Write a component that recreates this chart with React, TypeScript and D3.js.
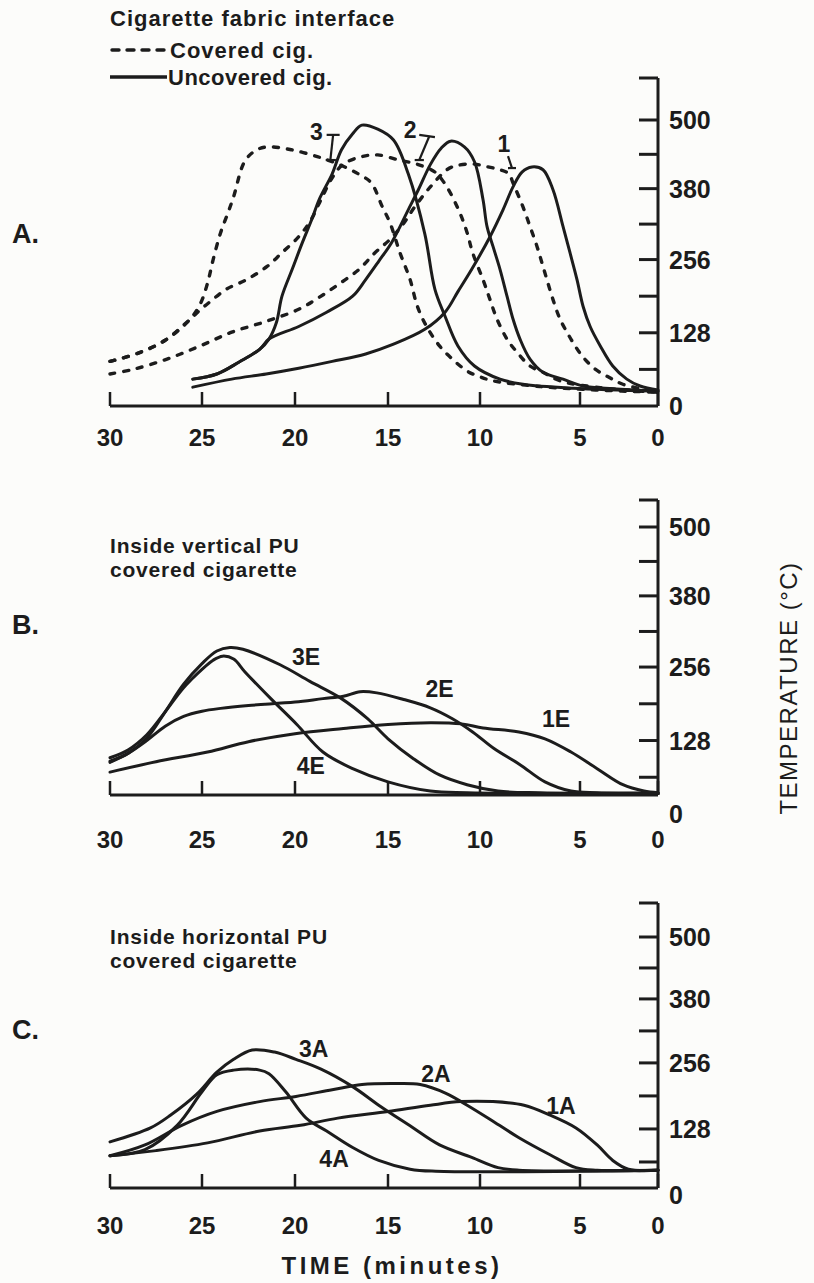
import React, { useEffect, useRef } from "react";
import * as d3 from "d3";

type Pt = [number, number]; // [minutes, °C]

const timeTicks = [30, 25, 20, 15, 10, 5, 0];
const tempTicks = [0, 128, 256, 380, 500];
const tempMinorTicks = [64, 192, 318, 440];

// A. cigarette fabric interface
const coveredA3: Pt[] = [[30,78],[28.5,92],[27,115],[25.7,150],[25.1,178],[24.7,215],[24.4,256],[24.0,303],[23.6,338],[23.3,366],[22.7,428],[22.1,447],[21.5,453],[20.2,448],[18.8,436],[18.0,427],[17.2,416],[16.5,404],[15.9,390],[15.3,348],[14.9,321],[14.35,268],[13.8,221],[13.4,174],[12.9,139],[12.2,105],[11.5,82],[10.7,61],[10.0,51],[9.35,44],[7,34],[4,28],[0,24]];
const coveredA2: Pt[] = [[30,78],[28.5,92],[27,115],[25.7,150],[25.1,168],[24.5,184],[23.7,204],[22.6,221],[21.5,244],[20.7,268],[19.8,296],[19.2,322],[18.6,361],[18.0,399],[17.4,423],[16.4,436],[15.55,439],[14.4,430],[13.45,423],[12.45,409],[11.8,383],[11.1,338],[10.7,303],[10.4,268],[9.85,221],[9.5,186],[9.15,152],[8.65,117],[8.15,94],[7.5,70],[6.85,59],[6.0,44],[3.7,32],[0,24]];
const coveredA1: Pt[] = [[30,56],[28.75,64],[26.9,82],[25.1,105],[23.4,129],[21.55,148],[19.8,169],[18.7,190],[17.6,214],[16.55,239],[15.7,268],[14.9,291],[14.2,317],[13.55,348],[12.7,383],[11.8,413],[11.3,420],[10.4,423],[9.6,418],[9.0,413],[8.55,406],[8.35,390],[7.85,348],[7.5,314],[7.15,279],[6.85,244],[6.35,186],[6.0,152],[5.65,129],[5.35,111],[4.85,87],[4.0,64],[3.2,51],[2.25,38],[0,24]];
const uncoveredA3: Pt[] = [[25.5,47],[24.2,56],[23.0,77],[21.9,99],[21.4,117],[21.0,146],[20.7,192],[20.15,239],[19.6,286],[19.1,326],[18.7,361],[18.0,406],[17.5,448],[16.9,476],[16.4,491],[15.55,484],[14.7,465],[13.9,406],[13.0,301],[12.45,204],[11.9,157],[11.2,105],[10.3,70],[9.0,47],[7.85,38],[5.35,31],[0,26]];
const uncoveredA2: Pt[] = [[25.5,47],[24.2,56],[23.0,77],[21.9,99],[21.4,117],[19.8,139],[18.3,164],[16.9,192],[16.2,221],[15.5,253],[14.8,286],[13.9,343],[13.35,378],[12.7,422],[12.1,451],[11.6,463],[10.85,453],[10.3,427],[9.85,361],[9.65,314],[9.35,279],[9.0,239],[8.65,192],[8.35,152],[8.0,117],[7.5,82],[6.85,59],[5.85,47],[4.8,35],[2.9,30],[0,26]];
const uncoveredA1: Pt[] = [[25.5,33],[23.4,47],[21.55,56],[19.8,66],[18.0,78],[16.2,91],[14.7,108],[13.0,134],[11.9,164],[11.2,200],[10.45,239],[9.5,296],[8.85,343],[8.35,383],[7.9,409],[7.4,418],[6.85,413],[6.35,378],[5.85,314],[5.5,268],[5.15,221],[4.8,174],[4.35,139],[3.7,105],[2.9,70],[2.0,47],[1.15,35],[0,28]];

// B. inside vertical PU, covered cigarette
const verticalE3: Pt[] = [[30,92],[29,106],[28,132],[27,178],[26,226],[25,262],[24.2,284],[23.5,290],[22.8,287],[20.8,260],[19.2,231],[17.5,201],[16.1,166],[15,131],[13.6,96],[12.2,68],[10.7,51],[9.1,40],[7,37],[0,36]];
const verticalE4: Pt[] = [[30,98],[29,112],[28,138],[27,178],[26,220],[25,252],[24.4,268],[23.9,275],[23.3,270],[22.7,248],[21.3,201],[19.9,156],[18.5,108],[16.9,79],[15,56],[12.7,40],[10.7,37],[0,36]];
const verticalE2: Pt[] = [[30,90],[29,106],[28,128],[27,153],[26,170],[25,179],[24,184],[22.5,189],[20,195],[18.5,201],[17.4,205],[16.5,213],[15.6,211],[14.2,200],[12.7,185],[11.5,166],[10.4,143],[9.3,114],[8,86],[6.75,56],[5.45,40],[3.9,37],[0,36]];
const verticalE1: Pt[] = [[30,73],[27.5,91],[24.7,108],[22.5,126],[20,140],[17.4,149],[15,156],[12.7,159],[11,157],[9.85,150],[8.05,143],[6.75,131],[5.45,108],[3.9,79],[2.25,51],[0.9,40],[0,37]];

// C. inside horizontal PU, covered cigarette
const horizontalA3: Pt[] = [[30,103],[27.8,130],[26.7,155],[25.3,195],[24.2,238],[23.3,263],[22.3,281],[21.1,277],[19.95,263],[18.6,244],[16.9,210],[15.5,174],[13.8,134],[12.2,97],[10.45,73],[9.1,53],[8.05,48],[0,48]];
const horizontalA4: Pt[] = [[30,76],[28.1,88],[26.35,135],[25,200],[24.2,233],[23.3,242],[21.9,242],[21.4,235],[20.5,200],[19.4,149],[18.3,124],[16.9,92],[15.5,67],[13.8,50],[12.4,46],[0,48]];
const horizontalA2: Pt[] = [[30,76],[28.1,97],[26.1,135],[24.2,162],[21.9,181],[19.95,191],[18,204],[16.4,214],[14.6,216],[13.25,214],[11.85,197],[10.7,174],[9.35,143],[8.05,111],[6.5,78],[5.2,53],[3.9,48],[0,48]];
const horizontalA1: Pt[] = [[30,76],[27.5,86],[24.7,101],[21.9,124],[19.7,135],[17.7,149],[15,162],[12.7,174],[11.05,181],[9.35,181],[7.8,174],[6.5,155],[5.2,130],[3.9,97],[2.9,67],[1.9,50],[0,48]];

const FONT = "'Liberation Sans', Arial, Helvetica, sans-serif";
const INK = "#1c1c1c";

// pixel positions of the hand-drawn time ticks (uneven in the original)
const timePx = [110, 202, 295, 388, 480, 580, 658];

const panels = [
  {
    zeroY: 406, unit: 0.572, axisY: 406, topY: 78, tickLabelY: 437,
    letter: "A.", letterX: 12, letterY: 234,
    title: [] as string[], titleY: 0,
    series: [
      { data: coveredA3, dashed: true }, { data: coveredA2, dashed: true }, { data: coveredA1, dashed: true },
      { data: uncoveredA3, dashed: false }, { data: uncoveredA2, dashed: false }, { data: uncoveredA1, dashed: false },
    ],
    labels: [
      { text: "3", t: 18.85, T: 479 }, { text: "2", t: 13.8, T: 483 }, { text: "1", t: 8.8, T: 458 },
    ],
    brackets: [
      [[18.3, 474], [17.6, 474]], [[17.95, 474], [18.1, 430]], [[18.35, 430], [17.8, 430]],
      [[13.3, 474], [12.45, 470]], [[12.75, 472], [13.3, 430]], [[13.55, 430], [13.05, 430]],
      [[8.6, 437], [8.4, 416]], [[8.6, 416], [8.2, 416]],
    ] as Pt[][],
  },
  {
    zeroY: 814, unit: 0.574, axisY: 795, topY: 500, tickLabelY: 839,
    letter: "B.", letterX: 12, letterY: 625,
    title: ["Inside vertical PU", "covered cigarette"], titleY: 545,
    series: [
      { data: verticalE3, dashed: false }, { data: verticalE4, dashed: false },
      { data: verticalE2, dashed: false }, { data: verticalE1, dashed: false },
    ],
    labels: [
      { text: "3E", t: 19.4, T: 273 }, { text: "2E", t: 12.2, T: 218 },
      { text: "1E", t: 6.2, T: 166 }, { text: "4E", t: 19.15, T: 84 },
    ],
    brackets: [] as Pt[][],
  },
  {
    zeroY: 1195, unit: 0.516, axisY: 1188, topY: 903, tickLabelY: 1225,
    letter: "C.", letterX: 12, letterY: 1030,
    title: ["Inside horizontal PU", "covered cigarette"], titleY: 936,
    series: [
      { data: horizontalA3, dashed: false }, { data: horizontalA4, dashed: false },
      { data: horizontalA2, dashed: false }, { data: horizontalA1, dashed: false },
    ],
    labels: [
      { text: "3A", t: 19.0, T: 283 }, { text: "2A", t: 12.4, T: 234 },
      { text: "1A", t: 5.95, T: 172 }, { text: "4A", t: 17.9, T: 70 },
    ],
    brackets: [] as Pt[][],
  },
];

export default function App() {
  const ref = useRef<SVGSVGElement>(null);

  useEffect(() => {
    const svg = d3.select(ref.current);
    svg.selectAll("*").remove();

    const x = d3.scaleLinear().domain(timeTicks).range(timePx);

    panels.forEach((p) => {
      const y = d3.scaleLinear().domain([0, 500]).range([p.zeroY, p.zeroY - 500 * p.unit]);
      const g = svg.append("g");
      const right = x(0);

      // x axis
      g.append("line")
        .attr("x1", x(30)).attr("x2", right)
        .attr("y1", p.axisY).attr("y2", p.axisY)
        .attr("stroke", INK).attr("stroke-width", 3);
      g.selectAll(".xt").data(timeTicks).enter().append("line")
        .attr("x1", (d) => x(d)).attr("x2", (d) => x(d))
        .attr("y1", p.axisY).attr("y2", p.axisY - 14)
        .attr("stroke", INK).attr("stroke-width", 2.5);
      g.selectAll(".xl").data(timeTicks).enter().append("text")
        .attr("x", (d) => x(d)).attr("y", p.tickLabelY)
        .attr("text-anchor", "middle").attr("dominant-baseline", "central")
        .attr("font-family", FONT).attr("font-weight", "bold").attr("font-size", 24)
        .attr("fill", INK)
        .text((d) => d);

      // temperature axis on the right, ticks pointing inward
      g.append("line")
        .attr("x1", right).attr("x2", right)
        .attr("y1", p.topY).attr("y2", p.axisY)
        .attr("stroke", INK).attr("stroke-width", 3);
      const tickVals = [...tempTicks, ...tempMinorTicks].filter((v) => y(v) < p.axisY - 6);
      g.selectAll(".yt").data(tickVals).enter().append("line")
        .attr("x1", right - 19).attr("x2", right)
        .attr("y1", (d) => y(d)).attr("y2", (d) => y(d))
        .attr("stroke", INK).attr("stroke-width", 3);
      g.append("line")
        .attr("x1", right - 19).attr("x2", right)
        .attr("y1", p.topY).attr("y2", p.topY)
        .attr("stroke", INK).attr("stroke-width", 3);
      g.selectAll(".yl").data(tempTicks).enter().append("text")
        .attr("x", right + 11).attr("y", (d) => y(d))
        .attr("dominant-baseline", "central")
        .attr("font-family", FONT).attr("font-weight", "bold").attr("font-size", 25)
        .attr("fill", INK)
        .text((d) => d);

      // curves
      const line = d3.line<Pt>()
        .x((d) => x(d[0]))
        .y((d) => y(d[1]))
        .curve(d3.curveCatmullRom.alpha(0.5));
      p.series.forEach((s) => {
        g.append("path")
          .attr("d", line(s.data))
          .attr("fill", "none")
          .attr("stroke", INK)
          .attr("stroke-width", s.dashed ? 3.4 : 3)
          .attr("stroke-linecap", "round")
          .attr("stroke-linejoin", "round")
          .attr("stroke-dasharray", s.dashed ? "5 9" : null);
      });

      const straight = d3.line<Pt>().x((d) => x(d[0])).y((d) => y(d[1]));
      p.brackets.forEach((b) => {
        g.append("path").attr("d", straight(b))
          .attr("fill", "none").attr("stroke", INK).attr("stroke-width", 2.2);
      });

      g.selectAll(".cl").data(p.labels).enter().append("text")
        .attr("x", (d) => x(d.t)).attr("y", (d) => y(d.T))
        .attr("text-anchor", "middle").attr("dominant-baseline", "central")
        .attr("font-family", FONT).attr("font-weight", "bold").attr("font-size", 23)
        .attr("fill", INK)
        .text((d) => d.text);

      // panel letter and caption
      g.append("text")
        .attr("x", p.letterX).attr("y", p.letterY)
        .attr("dominant-baseline", "central")
        .attr("font-family", FONT).attr("font-weight", "bold").attr("font-size", 27)
        .attr("fill", INK)
        .text(p.letter);
      p.title.forEach((line, i) => {
        g.append("text")
          .attr("x", x(30)).attr("y", p.titleY + i * 24)
          .attr("dominant-baseline", "central")
          .attr("font-family", FONT).attr("font-weight", "bold").attr("font-size", 21)
          .attr("letter-spacing", 0.8)
          .attr("fill", INK)
          .text(line);
      });
    });

    // legend of panel A
    const lx = x(30);
    svg.append("text")
      .attr("x", lx).attr("y", 18).attr("dominant-baseline", "central")
      .attr("font-family", FONT).attr("font-weight", "bold").attr("font-size", 22)
      .attr("letter-spacing", 1).attr("fill", INK)
      .text("Cigarette fabric interface");
    svg.append("line")
      .attr("x1", lx + 2).attr("x2", lx + 54).attr("y1", 50).attr("y2", 50)
      .attr("stroke", INK).attr("stroke-width", 3.4)
      .attr("stroke-linecap", "round").attr("stroke-dasharray", "7 8");
    svg.append("text")
      .attr("x", lx + 60).attr("y", 50).attr("dominant-baseline", "central")
      .attr("font-family", FONT).attr("font-weight", "bold").attr("font-size", 22)
      .attr("letter-spacing", 1).attr("fill", INK)
      .text("Covered cig.");
    svg.append("line")
      .attr("x1", lx).attr("x2", lx + 57).attr("y1", 77).attr("y2", 77)
      .attr("stroke", INK).attr("stroke-width", 3.5);
    svg.append("text")
      .attr("x", lx + 58).attr("y", 77).attr("dominant-baseline", "central")
      .attr("font-family", FONT).attr("font-weight", "bold").attr("font-size", 22)
      .attr("letter-spacing", 0.5).attr("fill", INK)
      .text("Uncovered cig.");

    // shared axis titles
    svg.append("text")
      .attr("transform", "translate(788,688) rotate(-90)")
      .attr("text-anchor", "middle").attr("dominant-baseline", "central")
      .attr("font-family", FONT).attr("font-size", 24)
      .attr("letter-spacing", 1.5).attr("fill", INK)
      .text("TEMPERATURE (°C)");
    svg.append("text")
      .attr("x", 392).attr("y", 1265)
      .attr("text-anchor", "middle").attr("dominant-baseline", "central")
      .attr("font-family", FONT).attr("font-weight", "bold").attr("font-size", 24)
      .attr("letter-spacing", 3.5).attr("fill", INK)
      .text("TIME (minutes)");
  }, []);

  return (
    <svg
      ref={ref}
      width={814}
      height={1283}
      style={{ position: "absolute", left: 0, top: 0, background: "#fcfcfa" }}
    />
  );
}
